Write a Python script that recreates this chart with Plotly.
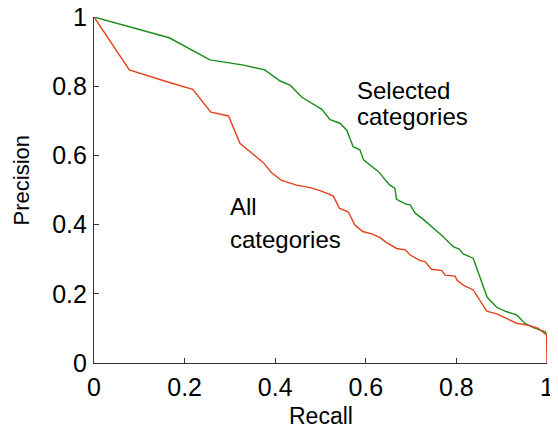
import plotly.graph_objects as go

# Data
recall_all = [0, 0.078, 0.168, 0.218, 0.258, 0.297, 0.322, 0.374, 0.392, 0.414, 0.447, 0.477, 0.499,
              0.528, 0.542, 0.561, 0.576, 0.593, 0.613, 0.631, 0.646, 0.668, 0.687, 0.698, 0.720,
              0.731, 0.745, 0.768, 0.775, 0.797, 0.802, 0.815, 0.837, 0.867, 0.889, 0.918, 0.933,
              0.962, 0.981, 0.999, 1.0]
precision_all = [1.0, 0.847, 0.810, 0.791, 0.725, 0.714, 0.635, 0.579, 0.550, 0.528, 0.514, 0.507,
                 0.498, 0.483, 0.447, 0.437, 0.399, 0.380, 0.373, 0.363, 0.348, 0.331, 0.327, 0.312,
                 0.296, 0.293, 0.271, 0.267, 0.254, 0.251, 0.238, 0.225, 0.211, 0.150, 0.142, 0.124,
                 0.115, 0.108, 0.100, 0.081, 0.0]

recall_sel = [0, 0.166, 0.256, 0.330, 0.377, 0.411, 0.433, 0.459, 0.503, 0.521, 0.543, 0.558, 0.572,
              0.587, 0.595, 0.628, 0.653, 0.664, 0.668, 0.687, 0.698, 0.709, 0.727, 0.753, 0.771,
              0.793, 0.806, 0.815, 0.837, 0.868, 0.889, 0.911, 0.933, 0.951, 0.970, 0.996, 1.0]
precision_sel = [1.0, 0.940, 0.876, 0.861, 0.847, 0.815, 0.803, 0.768, 0.733, 0.703, 0.693, 0.673,
                 0.625, 0.616, 0.587, 0.553, 0.514, 0.505, 0.473, 0.460, 0.457, 0.433, 0.415, 0.386,
                 0.365, 0.336, 0.329, 0.315, 0.303, 0.190, 0.161, 0.148, 0.139, 0.115, 0.102, 0.090,
                 0.080]

tick_vals = [0, 0.2, 0.4, 0.6, 0.8, 1]
tick_text = ["0", "0.2", "0.4", "0.6", "0.8", "1"]

FONT = "Liberation Sans, Arial, sans-serif"

fig = go.Figure()
fig.add_trace(go.Scatter(x=recall_sel, y=precision_sel, mode="lines",
                         line=dict(color="#1a8c1a", width=1.4), cliponaxis=False,
                         name="Selected categories"))
fig.add_trace(go.Scatter(x=recall_all, y=precision_all, mode="lines",
                         line=dict(color="#e5401c", width=1.4), cliponaxis=False,
                         name="All categories"))

ann_font = dict(family=FONT, size=24, color="black")
for txt, x, y in [("Selected", 0.576, 0.789), ("categories", 0.576, 0.712),
                  ("All", 0.296, 0.452), ("categories", 0.296, 0.357)]:
    fig.add_annotation(x=x, y=y, xref="x", yref="y", text=txt, showarrow=False,
                       xanchor="left", yanchor="middle", font=ann_font)

# axis titles
title_font = dict(family=FONT, size=23, color="black")
fig.add_annotation(x=0.5, y=-0.153, xref="paper", yref="paper", text="Recall",
                   showarrow=False, xanchor="center", yanchor="middle", font=title_font)
fig.add_annotation(x=-0.158, y=0.529, xref="paper", yref="paper", text="Precision",
                   showarrow=False, xanchor="center", yanchor="middle", textangle=-90,
                   font=dict(family=FONT, size=22, color="black"))

axis_common = dict(range=[0, 1], tickvals=tick_vals, ticktext=tick_text, automargin=False,
                   showgrid=False, zeroline=False, showline=True, linecolor="#333333",
                   linewidth=1.2, ticks="inside", ticklen=5, tickcolor="#333333",
                   ticklabeloverflow="allow",
                   tickfont=dict(family=FONT, size=25, color="black"))

fig.update_xaxes(**axis_common, ticklabelstandoff=2)
fig.update_yaxes(**axis_common, ticklabelstandoff=1)

# page body has an 8px default margin, so the figure is sized/offset to compensate
fig.update_layout(width=550, height=420, showlegend=False,
                  plot_bgcolor="white", paper_bgcolor="white",
                  margin=dict(l=86, r=11, t=9, b=65),
                  font=dict(family=FONT))

fig.write_html("out.html")
